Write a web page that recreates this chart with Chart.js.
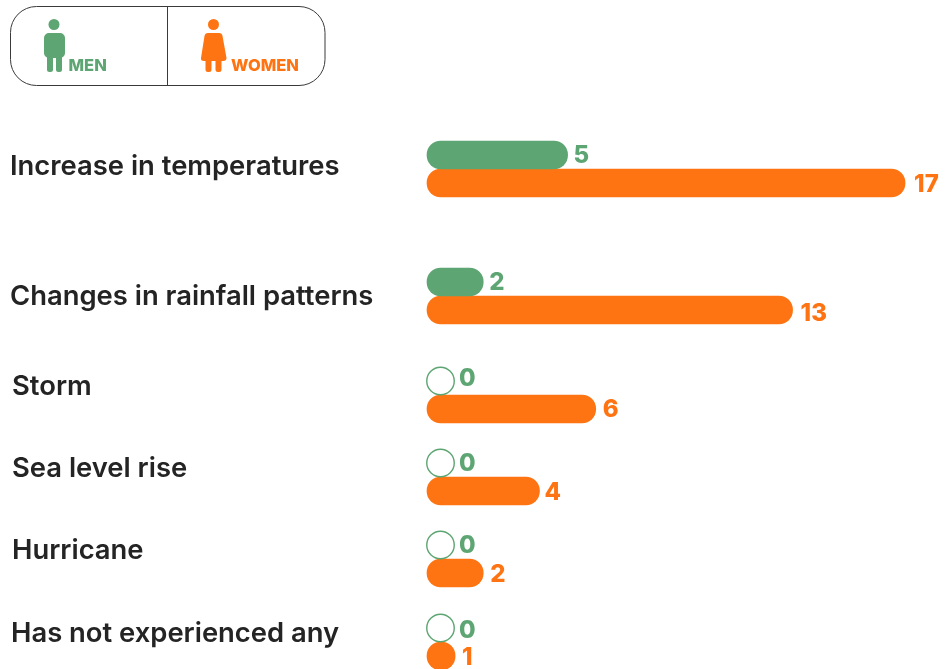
<!DOCTYPE html>
<html>
<head>
<meta charset="utf-8">
<style>html,body{margin:0;padding:0;background:#fff}canvas{display:block}</style>
<script src="https://cdn.jsdelivr.net/npm/chart.js@4"></script>
</head>
<body>
<canvas id="c" width="945" height="669"></canvas>
<script>
const categories = ["Increase in temperatures","Changes in rainfall patterns","Storm","Sea level rise","Hurricane","Has not experienced any"];
const seriesNames = ["MEN","WOMEN"];
const men = [5,2,0,0,0,0];
const women = [17,13,6,4,2,1];

// Layout (separate from data)
const GREEN = "#5da572", ORANGE = "#ff7412", INK = "#242424";
const seriesColours = [GREEN, ORANGE];
const rowCentres = [169,296,395,477,559,642];
const labelNudge = [[10,-2],[10,1],[12,-8],[12,-8],[12,-8],[11,-8]];
const BAR = 28;
const numFont = "800 24px Inter, sans-serif";
const menNumY = [1,1,-2,1,1,3];
const womenNumY = [2,4,1,2,2,2];
const womenNumX = [2,1,0,-2,0,0];

class RowScale extends Chart.CategoryScale {
  getPixelForValue(value, index) {
    const i = typeof value === "number" ? value : this.parse(value, index);
    return rowCentres[i];
  }
  _computeLabelItems(area) {
    const items = super._computeLabelItems(area);
    items.forEach((it, i) => {
      it.options.translation = [labelNudge[i][0], rowCentres[i] + labelNudge[i][1]];
      it.options.textAlign = "left";
    });
    return items;
  }
}
RowScale.id = "rowCategory";
RowScale.defaults = Chart.CategoryScale.defaults;
Chart.register(RowScale);

const zeroAndValues = {
  id: "zeroAndValues",
  afterDatasetsDraw(chart) {
    const ctx = chart.ctx, x = chart.scales.x;
    ctx.save();
    chart.data.datasets.forEach((ds, d) => {
      const meta = chart.getDatasetMeta(d);
      ds.data.forEach((v, i) => {
        const y = meta.data[i].y;
        let end = x.getPixelForValue(v);
        if (v === 0) {
          ctx.beginPath();
          ctx.arc(end + BAR / 2 - 0.5, y, BAR / 2 - 0.25, 0, Math.PI * 2);
          ctx.lineWidth = 1.4;
          ctx.strokeStyle = GREEN;
          ctx.stroke();
          end += BAR - 2;
        }
        ctx.font = numFont;
        ctx.fillStyle = seriesColours[d];
        ctx.textAlign = "left";
        ctx.textBaseline = "middle";
        ctx.fillText(String(v), end + 7 + (d === 1 ? womenNumX[i] : -1), y + (d === 0 ? menNumY[i] : womenNumY[i]));
      });
    });
    ctx.restore();
  }
};

const legendBox = {
  id: "legendBox",
  afterDraw(chart) {
    const c = chart.ctx;
    c.save();
    c.strokeStyle = "#3a3a3a";
    c.lineWidth = 1;
    c.beginPath();
    c.roundRect(10.5, 6.5, 314.5, 79, 26);
    c.moveTo(167.5, 6.5);
    c.lineTo(167.5, 85.5);
    c.stroke();

    // man
    c.fillStyle = GREEN;
    c.beginPath();
    c.arc(54, 24.5, 5.5, 0, Math.PI * 2);
    c.fill();
    c.beginPath();
    c.roundRect(44, 33, 21, 25, 5);
    c.roundRect(47, 52, 6, 20, 2.5);
    c.roundRect(56, 52, 6, 20, 2.5);
    c.fill();

    // woman
    c.fillStyle = ORANGE;
    c.beginPath();
    c.arc(213.5, 24.5, 5.5, 0, Math.PI * 2);
    c.fill();
    c.beginPath();
    c.moveTo(208, 33);
    c.lineTo(219, 33);
    c.quadraticCurveTo(222, 33, 222.5, 36);
    c.lineTo(226.5, 58);
    c.quadraticCurveTo(226.5, 61, 223, 61);
    c.lineTo(204, 61);
    c.quadraticCurveTo(200.5, 61, 201, 58);
    c.lineTo(204.5, 36);
    c.quadraticCurveTo(205, 33, 208, 33);
    c.closePath();
    c.roundRect(205.5, 58, 6, 14, 2.5);
    c.roundRect(215.5, 58, 6, 14, 2.5);
    c.fill();

    c.font = "800 16.5px Inter, sans-serif";
    c.textAlign = "left";
    c.textBaseline = "alphabetic";
    c.fillStyle = GREEN;
    c.fillText(seriesNames[0], 68.5, 71);
    c.fillStyle = ORANGE;
    c.fillText(seriesNames[1], 231, 71);
    c.restore();
  }
};

new Chart(document.getElementById("c"), {
  type: "bar",
  data: {
    labels: categories,
    datasets: [
      { label: seriesNames[0], data: men, backgroundColor: (c) => c.raw === 0 ? "rgba(0,0,0,0)" : GREEN, clip: false },
      { label: seriesNames[1], data: women, backgroundColor: ORANGE, clip: false }
    ]
  },
  options: {
    indexAxis: "y",
    responsive: false,
    animation: false,
    layout: { padding: 0 },
    datasets: { bar: { barThickness: BAR, borderRadius: 14, borderSkipped: false, borderWidth: 0 } },
    plugins: { legend: { display: false }, tooltip: { enabled: false }, title: { display: false } },
    scales: {
      x: { type: "linear", display: false, min: 0, max: 18.42, grid: { display: false } },
      y: {
        type: "rowCategory",
        position: "left",
        grid: { display: false, drawTicks: false },
        border: { display: false },
        afterFit(s) { s.width = 427; },
        ticks: { color: INK, font: { family: "Inter, sans-serif", size: 27.4, weight: "600" }, crossAlign: "far", autoSkip: false, padding: 0 }
      }
    }
  },
  plugins: [zeroAndValues, legendBox]
});
</script>
</body>
</html>
